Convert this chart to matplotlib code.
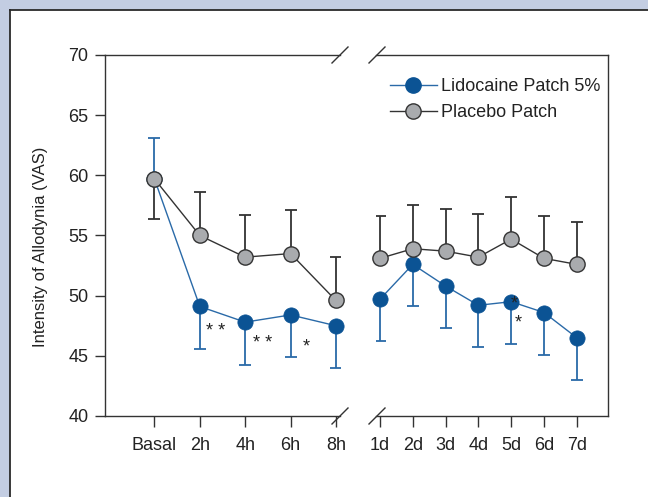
import matplotlib
matplotlib.use("Agg")
import matplotlib.pyplot as plt
from matplotlib import font_manager
from matplotlib.patches import Rectangle
from matplotlib.lines import Line2D

# ---- data ----
early_labels = ["Basal", "2h", "4h", "6h", "8h"]
late_labels = ["1d", "2d", "3d", "4d", "5d", "6d", "7d"]

lido_early = [59.7, 49.1, 47.8, 48.4, 47.5]
lido_early_lo = [0.0, 3.5, 3.6, 3.5, 3.5]
lido_early_hi = [3.4, 0.0, 0.0, 0.0, 0.0]
lido_late = [49.7, 52.6, 50.8, 49.2, 49.5, 48.6, 46.5]
lido_late_lo = [3.5, 3.5, 3.5, 3.5, 3.5, 3.5, 3.5]

plac_early = [59.7, 55.0, 53.2, 53.5, 49.6]
plac_early_lo = [3.3, 0.0, 0.0, 0.0, 0.0]
plac_early_hi = [0.0, 3.6, 3.5, 3.6, 3.6]
plac_late = [53.1, 53.9, 53.7, 53.2, 54.7, 53.1, 52.6]
plac_late_hi = [3.5, 3.6, 3.5, 3.6, 3.5, 3.5, 3.5]

yticks = [40, 45, 50, 55, 60, 65, 70]

# significance marks (label, x index, y value)
stars_early = [("* *", 1.35, 47.0), ("* *", 2.39, 46.0), ("*", 3.35, 45.7)]
stars_late = [("*", 4.1, 49.3), ("*", 4.22, 47.7)]

# ---- fonts ----
avail = {f.name for f in font_manager.fontManager.ttflist}
fam = "Liberation Sans Narrow" if "Liberation Sans Narrow" in avail else "Liberation Sans"
plt.rcParams["font.family"] = [fam, "DejaVu Sans"]
FS = 13

BLUE_M = "#0b5394"
BLUE_L = "#2a6aa8"
GRAY_M = "#a9abae"
DARK = "#333333"

W, H = 648, 497
fig = plt.figure(figsize=(W / 100, H / 100), dpi=100)
fig.patch.set_facecolor("#c3cde2")
fig.patches.append(Rectangle((9.5 / W, 0), 1, 1 - 10 / H, transform=fig.transFigure,
                             facecolor="white", edgecolor="none", zorder=-5))
fig.lines.append(Line2D([9.5 / W, 9.5 / W], [0, 1 - 10 / H], transform=fig.transFigure,
                        color="#2a2a2a", lw=1.3, zorder=-4))
fig.lines.append(Line2D([9.5 / W, 1], [1 - 10 / H, 1 - 10 / H], transform=fig.transFigure,
                        color="#2a2a2a", lw=1.3, zorder=-4))

bottom = (H - 416) / H
height = (416 - 55) / H
axL = fig.add_axes([105 / W, bottom, (340 - 105) / W, height])
axR = fig.add_axes([376 / W, bottom, (608 - 376) / W, height])
for ax in (axL, axR):
    ax.set_facecolor("none")
    ax.set_ylim(40, 70)
    for s in ax.spines.values():
        s.set_color(DARK)
        s.set_linewidth(1.0)
    ax.tick_params(axis="x", direction="out", length=8, width=1.0, color=DARK,
                   pad=7, labelsize=FS, labelcolor="#222222")
    ax.tick_params(axis="y", direction="out", length=7, width=1.0, color=DARK,
                   pad=5, labelsize=FS, labelcolor="#222222")

axL.spines["right"].set_visible(False)
axR.spines["left"].set_visible(False)
axR.tick_params(axis="y", left=False, labelleft=False)
axL.set_yticks(yticks)

xe = list(range(len(early_labels)))
xl = list(range(len(late_labels)))
axL.set_xlim(-1.09, 4.09)
axR.set_xlim(-0.12, 6.95)
axL.set_xticks(xe)
axL.set_xticklabels(early_labels)
axR.set_xticks(xl)
axR.set_xticklabels(late_labels)

axL.set_ylabel("Intensity of Allodynia (VAS)", fontsize=12, color="#222222")
axL.yaxis.set_label_coords((48 - 105) / 235, 0.47)

ms = 11
def draw(ax, x, lido, lido_lo, lido_hi, plac, plac_lo, plac_hi):
    ax.errorbar(x, lido, yerr=[lido_lo, lido_hi], fmt="none", ecolor=BLUE_L,
                elinewidth=1.3, capsize=4.5, capthick=1.3, zorder=2)
    ax.plot(x, lido, color=BLUE_L, lw=1.0, marker="o", ms=ms, mfc=BLUE_M,
            mec=BLUE_M, mew=0.5, zorder=3, clip_on=False)
    ax.errorbar(x, plac, yerr=[plac_lo, plac_hi], fmt="none", ecolor=DARK,
                elinewidth=1.3, capsize=4.5, capthick=1.3, zorder=4)
    ax.plot(x, plac, color=DARK, lw=1.0, marker="o", ms=ms, mfc=GRAY_M,
            mec=DARK, mew=1.0, zorder=5, clip_on=False)

zeros_l = [0.0] * len(late_labels)
draw(axL, xe, lido_early, lido_early_lo, lido_early_hi, plac_early, plac_early_lo, plac_early_hi)
draw(axR, xl, lido_late, lido_late_lo, zeros_l, plac_late, zeros_l, plac_late_hi)

for lab, x, y in stars_early:
    axL.text(x, y, lab, fontsize=FS, ha="center", va="center", color="#222222", zorder=6)
for lab, x, y in stars_late:
    axR.text(x, y, lab, fontsize=FS, ha="center", va="center", color="#222222", zorder=6)

# break marks
def slash(cx, cy):
    fig.lines.append(Line2D([(cx - 8) / W, (cx + 8) / W], [1 - (cy + 8) / H, 1 - (cy - 8) / H],
                            transform=fig.transFigure, color=DARK, lw=1.0))
for cx in (340, 377):
    slash(cx, 55)
    slash(cx, 416)

# legend
h1 = Line2D([], [], color=BLUE_L, lw=1.0, marker="o", ms=ms, mfc=BLUE_M, mec=BLUE_M)
h2 = Line2D([], [], color=DARK, lw=1.0, marker="o", ms=ms, mfc=GRAY_M, mec=DARK)
fig.legend([h1, h2], ["Lidocaine Patch 5%", "Placebo Patch"], loc="upper left",
           bbox_to_anchor=(390 / W, 1 - 78 / H), bbox_transform=fig.transFigure,
           frameon=False, fontsize=FS, borderpad=0, borderaxespad=0,
           handlelength=2.6, handletextpad=0.2, labelspacing=0.5, labelcolor="#222222")

fig.savefig("out.png", dpi=100, facecolor=fig.get_facecolor())
